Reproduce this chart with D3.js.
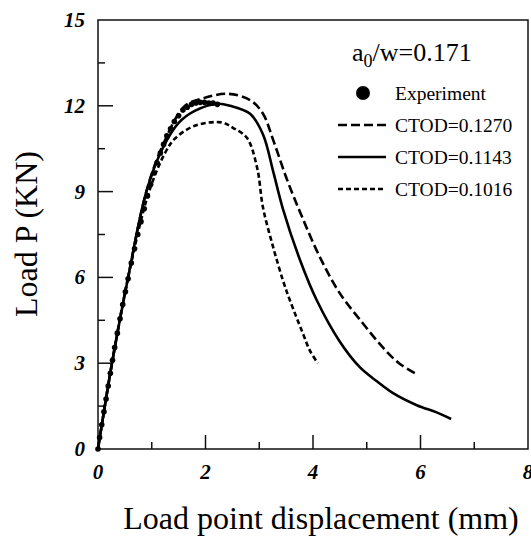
<!DOCTYPE html>
<html lang="en">
  <head>
    <meta charset="utf-8" />
    <title>Load vs displacement</title>
    <style>
      body { margin: 0; background: #fff; }
      text { font-family: "Liberation Serif", "Times New Roman", serif; fill: #000; }
    </style>
  </head>
  <body>
    <svg id="viz"></svg>
    <script src="https://d3js.org/d3.v7.min.js"></script>
    <script>
        var width = 531;
        var height = 536;

        // experiment (dots)
        var expX = [0, 0.03, 0.07, 0.11, 0.15, 0.19, 0.23, 0.27, 0.31, 0.36, 0.41, 0.46, 0.51, 0.56, 0.62, 0.68, 0.74, 0.8, 0.86, 0.92, 0.98, 1.04, 1.1, 1.16, 1.22, 1.28, 1.35, 1.42, 1.5, 1.58, 1.66, 1.74, 1.82, 1.9, 1.98, 2.06, 2.14, 2.22];
        var expP = [0, 0.4, 0.85, 1.3, 1.75, 2.2, 2.65, 3.1, 3.55, 4.05, 4.55, 5.05, 5.5, 5.95, 6.5, 7.0, 7.5, 7.95, 8.4, 8.85, 9.25, 9.65, 10.0, 10.35, 10.65, 10.95, 11.2, 11.45, 11.65, 11.85, 11.95, 12.05, 12.1, 12.12, 12.12, 12.1, 12.1, 12.05];

        // CTOD=0.1270 (long dash)
        var c1270X = [0, 0.26, 0.56, 0.9, 1.2, 1.62, 1.99, 2.42, 2.83, 3.07, 3.26, 3.52, 3.8, 4.13, 4.5, 4.93, 5.3, 5.6, 5.9];
        var c1270P = [0, 3, 6, 9, 10.6, 12.0, 12.28, 12.42, 12.2, 11.72, 10.8, 9.4, 8.1, 6.7, 5.44, 4.39, 3.55, 3.0, 2.65];

        // CTOD=0.1143 (solid)
        var c1143X = [0, 0.26, 0.56, 0.9, 1.2, 1.5, 1.8, 2.23, 2.46, 2.83, 3.07, 3.26, 3.44, 3.76, 4.07, 4.5, 4.87, 5.2, 5.49, 5.93, 6.3, 6.57];
        var c1143P = [0, 3, 6, 9, 10.5, 11.4, 11.82, 12.07, 12.0, 11.72, 11.0, 9.7, 8.4, 6.6, 5.2, 3.75, 2.86, 2.35, 1.95, 1.53, 1.28, 1.05];

        // CTOD=0.1016 (short dash)
        var c1016X = [0, 0.26, 0.56, 0.95, 1.25, 1.43, 1.8, 2.3, 2.51, 2.77, 2.96, 3.07, 3.26, 3.44, 3.57, 3.81, 3.94, 4.09];
        var c1016P = [0, 3, 6, 9, 10.36, 10.85, 11.3, 11.42, 11.23, 10.88, 9.84, 8.44, 7.05, 5.9, 5.2, 4.05, 3.45, 3.0];

        var xTicks = [0, 2, 4, 6, 8];
        var yTicks = [0, 3, 6, 9, 12, 15];
        var xMinor = [1, 3, 5, 7];
        var yMinor = [1.5, 4.5, 7.5, 10.5, 13.5];

        var legendNames = ["CTOD=0.1270", "CTOD=0.1143", "CTOD=0.1016"];
        var dashes = ["9,4", null, "5,3"];

        var x = d3.scaleLinear().domain([0, 8]).range([98, 528]);
        var y = d3.scaleLinear().domain([0, 15]).range([449, 20]);

        var svg = d3.select("#viz")
            .attr("width", width)
            .attr("height", height);

        // frame
        svg.append("rect")
            .attr("x", x(0)).attr("y", y(15))
            .attr("width", x(8) - x(0)).attr("height", y(0) - y(15))
            .attr("fill", "none").attr("stroke", "#111").attr("stroke-width", 1.5);

        // ticks pointing in
        svg.append("g").selectAll("line").data(xTicks.slice(1, -1)).enter().append("line")
            .attr("x1", d => x(d)).attr("x2", d => x(d))
            .attr("y1", y(0)).attr("y2", y(0) - 14)
            .attr("stroke", "#111").attr("stroke-width", 1.5);
        svg.append("g").selectAll("line").data(xMinor).enter().append("line")
            .attr("x1", d => x(d)).attr("x2", d => x(d))
            .attr("y1", y(0)).attr("y2", y(0) - 7)
            .attr("stroke", "#111").attr("stroke-width", 1.5);
        svg.append("g").selectAll("line").data(yTicks.slice(1, -1)).enter().append("line")
            .attr("x1", x(0)).attr("x2", x(0) + 15)
            .attr("y1", d => y(d)).attr("y2", d => y(d))
            .attr("stroke", "#111").attr("stroke-width", 1.5);
        svg.append("g").selectAll("line").data(yMinor).enter().append("line")
            .attr("x1", x(0)).attr("x2", x(0) + 7)
            .attr("y1", d => y(d)).attr("y2", d => y(d))
            .attr("stroke", "#111").attr("stroke-width", 1.5);

        // tick labels (bold italic)
        svg.append("g").selectAll("text").data(xTicks).enter().append("text")
            .attr("x", d => x(d)).attr("y", 479)
            .attr("text-anchor", "middle")
            .style("font-size", "21px").style("font-weight", "bold").style("font-style", "italic")
            .text(d => d);
        svg.append("g").selectAll("text").data(yTicks).enter().append("text")
            .attr("x", 85).attr("y", d => y(d) + 7)
            .attr("text-anchor", "end")
            .style("font-size", "21px").style("font-weight", "bold").style("font-style", "italic")
            .text(d => d);

        // axis titles
        svg.append("text")
            .attr("x", 321).attr("y", 529)
            .attr("text-anchor", "middle")
            .style("font-size", "32px")
            .text("Load point displacement (mm)");
        svg.append("text")
            .attr("transform", "translate(37,234) rotate(-90)")
            .attr("text-anchor", "middle")
            .style("font-size", "32px")
            .text("Load P (KN)");

        // curves
        var line = d3.line()
            .x(d => x(d[0])).y(d => y(d[1]))
            .curve(d3.curveCatmullRom.alpha(0.5));

        var curves = [
            d3.zip(c1270X, c1270P),
            d3.zip(c1143X, c1143P),
            d3.zip(c1016X, c1016P)
        ];

        svg.append("g").selectAll("path").data(curves).enter().append("path")
            .attr("d", line)
            .attr("fill", "none")
            .attr("stroke", "#000")
            .attr("stroke-width", 2.6)
            .attr("stroke-dasharray", (d, i) => dashes[i]);

        svg.append("g").selectAll("circle").data(d3.zip(expX, expP)).enter().append("circle")
            .attr("cx", d => x(d[0])).attr("cy", d => y(d[1]))
            .attr("r", 2.8)
            .attr("fill", "#000");

        // legend
        var title = svg.append("text")
            .attr("x", 352).attr("y", 61)
            .style("font-size", "26px");
        title.append("tspan").text("a");
        title.append("tspan").attr("dy", 6).style("font-size", "18px").text("0");
        title.append("tspan").attr("dy", -6).text("/w=0.171");

        svg.append("circle")
            .attr("cx", 363).attr("cy", 93).attr("r", 7)
            .attr("fill", "#000");
        svg.append("text")
            .attr("x", 395).attr("y", 100)
            .style("font-size", "19.5px")
            .text("Experiment");

        var legendY = [125, 157, 189];
        var leg = svg.append("g").selectAll("g").data(legendNames).enter().append("g");
        leg.append("line")
            .attr("x1", 338).attr("x2", 386)
            .attr("y1", (d, i) => legendY[i]).attr("y2", (d, i) => legendY[i])
            .attr("stroke", "#000").attr("stroke-width", 2.6)
            .attr("stroke-dasharray", (d, i) => dashes[i]);
        leg.append("text")
            .attr("x", 395).attr("y", (d, i) => legendY[i] + 7)
            .style("font-size", "19.5px")
            .text(d => d);
    </script>
  </body>
</html>
